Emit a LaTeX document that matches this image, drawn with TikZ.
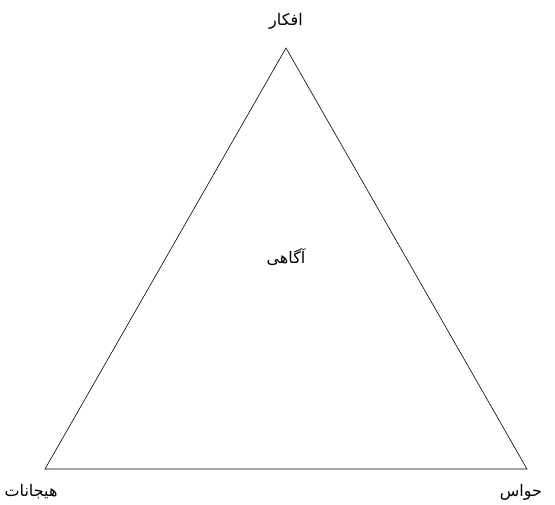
\documentclass[tikz,border=0pt]{standalone}
\usepackage{fontspec}
\TeXXeTstate=1
\newfontfamily\arabicfont[Script=Arabic]{DejaVu Sans}
\begin{document}
\begin{tikzpicture}[x=1pt,y=1pt,
  lbl/.style={inner sep=0pt,font=\arabicfont\fontsize{16}{19}\selectfont},
  edge/.style={draw=black,line width=0.6pt}]
\useasboundingbox (0,0) rectangle (555,505);
\coordinate (A) at (286,457);
\coordinate (B) at (45,36);
\coordinate (C) at (527,36);
\draw[edge] (A) -- (B) -- (C) -- cycle;
\node[lbl] (top) at (286,484) {\beginR افکار\endR};
\node[lbl] (mid) at (286,248) {\beginR آگاهی\endR};
\node[lbl] (left) at (31,13) {\beginR هیجانات\endR};
\node[lbl] (right) at (521,13) {\beginR حواس\endR};
\end{tikzpicture}
\end{document}
